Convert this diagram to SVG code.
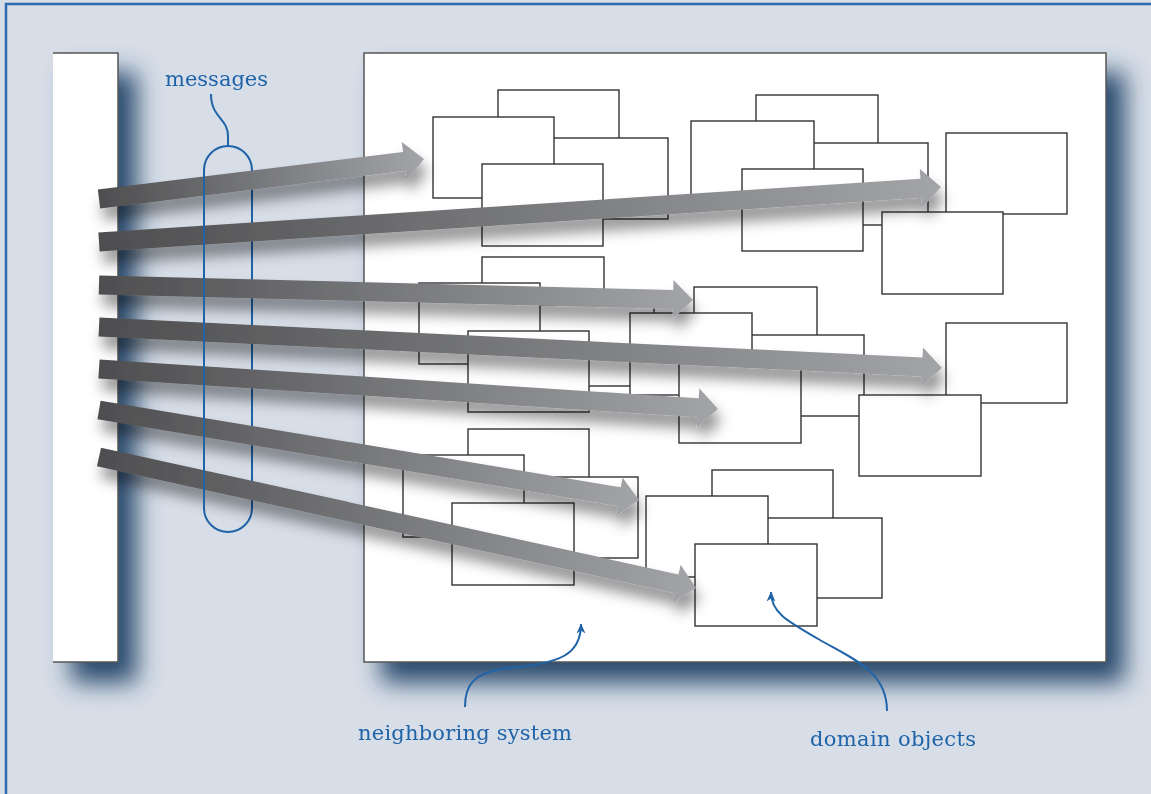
<svg xmlns="http://www.w3.org/2000/svg" width="1151" height="794" viewBox="0 0 1151 794">
<defs>
<style>
.box{fill:#fff;stroke:#333;stroke-width:1.4}
.panel{fill:#fff;stroke:#555;stroke-width:1.5}
.lbl{font-family:"DejaVu Serif","Liberation Serif",serif;font-size:21px;fill:#1f63a8}
.lead{fill:none;stroke:#1f63a8;stroke-width:2}
.arrow{fill:url(#ag)}
</style>
<linearGradient id="ag" x1="0" y1="0" x2="1" y2="0">
<stop offset="0" stop-color="#4e4e50"/>
<stop offset="1" stop-color="#a2a4a8"/>
</linearGradient>
<filter id="pshadow" filterUnits="userSpaceOnUse" x="0" y="0" width="1151" height="794">
<feDropShadow dx="18" dy="20" stdDeviation="12" flood-color="#2c4b6e" flood-opacity="1"/>
</filter>
<filter id="ashadow" filterUnits="userSpaceOnUse" x="0" y="0" width="1151" height="794">
<feDropShadow dx="4" dy="12" stdDeviation="7" flood-color="#000" flood-opacity="0.42"/>
</filter>
<marker id="ah" viewBox="0 0 10 10" refX="9.5" refY="5" markerWidth="10" markerHeight="10" markerUnits="userSpaceOnUse" orient="auto">
<path d="M0,0.5 L10,5 L0,9.5 L3,5 Z" fill="#1f63a8"/>
</marker>
</defs>
<rect x="0" y="0" width="1151" height="794" fill="#d7dee8"/>
<rect x="6" y="4" width="1170" height="820" fill="none" stroke="#2b6cb0" stroke-width="2.5"/>

<g id="client-system" filter="url(#pshadow)">
<rect x="53" y="53" width="65" height="609" fill="#fff"/>
<path d="M53,53 H118 V662 H53" fill="none" stroke="#555" stroke-width="1.5"/>
</g>
<g id="neighboring-system" filter="url(#pshadow)">
<rect class="panel" x="364" y="53" width="742" height="609"/>
</g>

<g id="domain-objects">
<g id="g1a"><rect class="box" x="498" y="90" width="121" height="81"/></g>
<g id="g1c"><rect class="box" x="547" y="138" width="121" height="81"/></g>
<g id="g1b"><rect class="box" x="433" y="117" width="121" height="81"/></g>
<g id="g1d"><rect class="box" x="482" y="164" width="121" height="82"/></g>

<g id="g2a"><rect class="box" x="756" y="95" width="122" height="81"/></g>
<g id="g2c"><rect class="box" x="807" y="143" width="121" height="82"/></g>
<g id="g2b"><rect class="box" x="691" y="121" width="123" height="81"/></g>
<g id="g2d"><rect class="box" x="742" y="169" width="121" height="82"/></g>

<g id="r1"><rect class="box" x="946" y="133" width="121" height="81"/></g>
<g id="r2"><rect class="box" x="882" y="212" width="121" height="82"/></g>

<g id="g3a"><rect class="box" x="482" y="257" width="122" height="81"/></g>
<g id="g3c"><rect class="box" x="533" y="305" width="121" height="81"/></g>
<g id="g3b"><rect class="box" x="419" y="283" width="121" height="81"/></g>
<g id="g3d"><rect class="box" x="468" y="331" width="121" height="81"/></g>

<g id="g4a"><rect class="box" x="694" y="287" width="123" height="81"/></g>
<g id="g4c"><rect class="box" x="743" y="335" width="121" height="81"/></g>
<g id="g4b"><rect class="box" x="630" y="313" width="122" height="82"/></g>
<g id="g4d"><rect class="box" x="679" y="361" width="122" height="82"/></g>

<g id="r3"><rect class="box" x="946" y="323" width="121" height="80"/></g>
<g id="r4"><rect class="box" x="859" y="395" width="122" height="81"/></g>

<g id="g5a"><rect class="box" x="468" y="429" width="121" height="81"/></g>
<g id="g5c"><rect class="box" x="517" y="477" width="121" height="81"/></g>
<g id="g5b"><rect class="box" x="403" y="455" width="121" height="82"/></g>
<g id="g5d"><rect class="box" x="452" y="503" width="122" height="82"/></g>

<g id="g6a"><rect class="box" x="712" y="470" width="121" height="81"/></g>
<g id="g6c"><rect class="box" x="761" y="518" width="121" height="80"/></g>
<g id="g6b"><rect class="box" x="646" y="496" width="122" height="81"/></g>
<g id="g6d"><rect class="box" x="695" y="544" width="122" height="82"/></g>
</g>

<g id="messages-loop">
<rect x="204" y="146" width="48" height="386" rx="24" ry="24" fill="none" stroke="#1f63a8" stroke-width="2"/>
</g>

<g id="connectors" filter="url(#ashadow)">
<path class="arrow" transform="translate(99,199) rotate(-7.02)" d="M0,-9.5 H307.5 V-19.5 L327.5,0 L307.5,19.5 V9.5 H0 Z"/>
<path class="arrow" transform="translate(99,242) rotate(-3.74)" d="M0,-9.5 H823.8 V-19.5 L843.8,0 L823.8,19.5 V9.5 H0 Z"/>
<path class="arrow" transform="translate(99,285) rotate(1.45)" d="M0,-9.5 H574.2 V-19.5 L594.2,0 L574.2,19.5 V9.5 H0 Z"/>
<path class="arrow" transform="translate(99,327) rotate(2.78)" d="M0,-9.5 H824 V-19.5 L844,0 L824,19.5 V9.5 H0 Z"/>
<path class="arrow" transform="translate(99,369) rotate(3.70)" d="M0,-9.5 H600.3 V-19.5 L620.3,0 L600.3,19.5 V9.5 H0 Z"/>
<path class="arrow" transform="translate(99,410) rotate(9.46)" d="M0,-9.5 H527.4 V-19.5 L547.4,0 L527.4,19.5 V9.5 H0 Z"/>
<path class="arrow" transform="translate(99,457) rotate(12.38)" d="M0,-9.5 H591.2 V-19.5 L611.2,0 L591.2,19.5 V9.5 H0 Z"/>
</g>

<g id="messages-loop-front">
<line x1="204" y1="170" x2="204" y2="508" stroke="#1f63a8" stroke-width="2"/>
</g>

<g id="labels">
<text class="lbl" x="165" y="86">messages</text>
<path class="lead" d="M211,94 C211,118 228,118 228,136 L228,146"/>
<text class="lbl" x="358" y="740" textLength="214">neighboring system</text>
<path class="lead" d="M465,707 C465,688 470,672 510,668 C560,663 581,655 581,624" marker-end="url(#ah)"/>
<text class="lbl" x="810" y="746" textLength="166">domain objects</text>
<path class="lead" d="M887,711 C887,672 855,660 820,640 C785,620 771,612 771,592" marker-end="url(#ah)"/>
</g>
</svg>
